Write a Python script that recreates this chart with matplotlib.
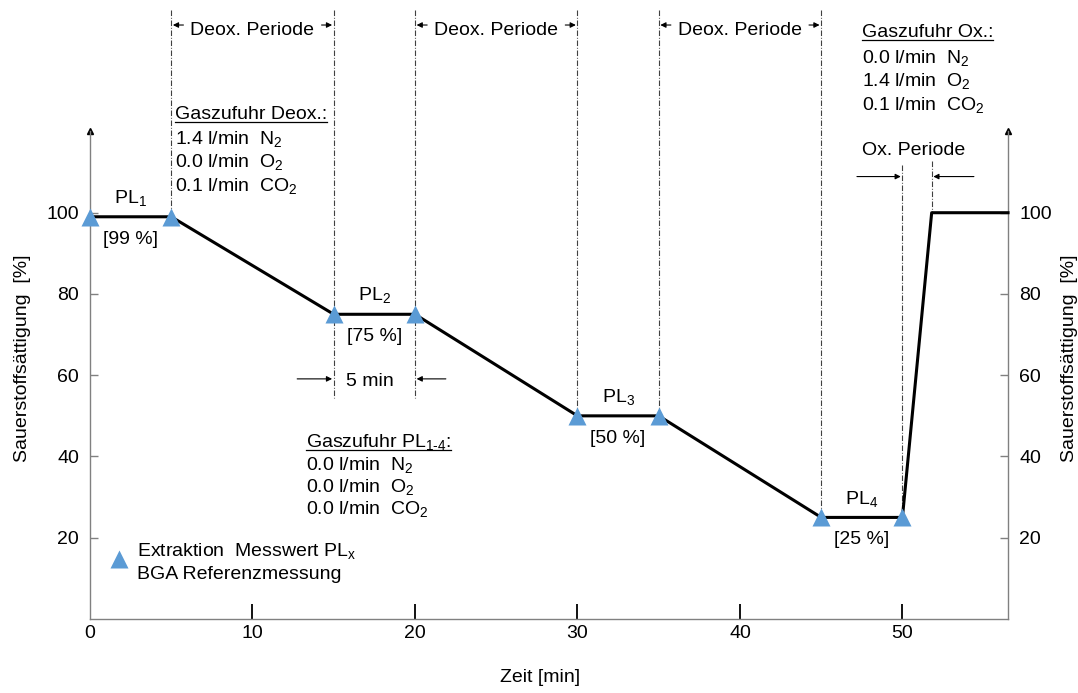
import matplotlib
matplotlib.use("Agg")
import matplotlib.pyplot as plt
from matplotlib.lines import Line2D

plt.rcParams['font.family'] = ['Liberation Sans', 'DejaVu Sans']
plt.rcParams['mathtext.fontset'] = 'custom'
plt.rcParams['mathtext.rm'] = 'Liberation Sans'
plt.rcParams['mathtext.it'] = 'Liberation Sans:italic'
plt.rcParams['mathtext.bf'] = 'Liberation Sans:bold'

# Plateaus of the saturation protocol: start time (min), duration (min), level (%)
plateau_start = [0, 15, 30, 45]
plateau_duration = 5
plateau_level = [99, 75, 50, 25]
plateau_names = ["PL$_1$", "PL$_2$", "PL$_3$", "PL$_4$"]

# Re-oxygenation at the end of the protocol
ox_rise_end = 51.8
ox_level = 100
t_end = 56.5

# Deoxygenation periods between the plateaus (min)
deox_periods = [(5, 15), (20, 30), (35, 45)]

# Gas supply (l/min) for N2, O2, CO2
gases = ["N$_2$", "O$_2$", "CO$_2$"]
flow_deox = [1.4, 0.0, 0.1]
flow_plateau = [0.0, 0.0, 0.0]
flow_ox = [0.0, 1.4, 0.1]

x_ticks = [0, 10, 20, 30, 40, 50]
y_ticks = [20, 40, 60, 80, 100]

FS = 14
BLUE = '#5B9BD5'
GREY = '#808080'
DASHDOT = (0, (5, 1.6, 0.8, 1.6))

fig = plt.figure(figsize=(10.78, 6.93), dpi=100)
ax = fig.add_axes([0.0835, 0.1068, 0.8516, 0.7035])
ax.set_xlim(0, t_end)
ax.set_ylim(0, 120)

# saturation profile
t, s = [], []
for st, lv in zip(plateau_start, plateau_level):
    t += [st, st + plateau_duration]
    s += [lv, lv]
n_meas = len(t)
t += [ox_rise_end, t_end]
s += [ox_level, ox_level]
ax.plot(t, s, color='black', lw=2.2, zorder=3, clip_on=False)
ax.plot(t[:n_meas], s[:n_meas], '^', ms=13, color=BLUE, mec='none',
        zorder=4, clip_on=False)

# plateau labels
for st, lv, name in zip(plateau_start, plateau_level, plateau_names):
    mid = st + plateau_duration / 2
    ax.annotate(name, (mid, lv), xytext=(0, 10), textcoords='offset points',
                ha='center', va='baseline', fontsize=FS, annotation_clip=False)
    ax.annotate(f"[{lv} %]", (mid, lv), xytext=(0, -16), textcoords='offset points',
                ha='center', va='center', fontsize=FS, annotation_clip=False)

# vertical dash-dot guides
def guide(x, y0, y1):
    ax.plot([x, x], [y0, y1], color='#404040', lw=0.8, ls=DASHDOT,
            zorder=2, clip_on=False)

top = 150
guide(plateau_start[0] + plateau_duration, top, plateau_level[0])
guide(plateau_start[1], top, 54.4)
guide(plateau_start[1] + plateau_duration, top, 54.4)
guide(plateau_start[2], top, plateau_level[2])
guide(plateau_start[2] + plateau_duration, top, plateau_level[2])
guide(plateau_start[3], top, plateau_level[3])
guide(plateau_start[3] + plateau_duration, 111.8, plateau_level[3])
guide(ox_rise_end, 112.7, ox_level)

def arrow(x_tip, x_tail, y):
    ax.annotate('', xy=(x_tip, y), xytext=(x_tail, y),
                arrowprops=dict(arrowstyle='-|>', lw=0.8, color='black',
                                mutation_scale=8, shrinkA=0, shrinkB=0),
                annotation_clip=False)

# deoxygenation periods
for a, b in deox_periods:
    ax.text((a + b) / 2, 143.8, "Deox. Periode", ha='center', va='baseline',
            fontsize=FS, clip_on=False)
    arrow(a + 0.1, a + 0.75, 146.2)
    arrow(b - 0.1, b - 0.75, 146.2)

# oxygenation period
ox_start = plateau_start[3] + plateau_duration
ax.text(50.7, 114.2, "Ox. Periode", ha='center', va='baseline', fontsize=FS,
        clip_on=False)
arrow(ox_start - 0.1, 47.2, 108.9)
arrow(ox_rise_end + 0.1, 54.4, 108.9)

# plateau duration
p2a = plateau_start[1]
p2b = plateau_start[1] + plateau_duration
ax.text((p2a + p2b) / 2 - 0.3, 57.4, f"{plateau_duration} min", ha='center',
        va='baseline', fontsize=FS)
arrow(p2a - 0.1, 12.75, 59.1)
arrow(p2b + 0.1, 21.9, 59.1)

# gas supply blocks
headings = []
def gas_block(x, baselines, title, flows):
    h = ax.text(x, baselines[0], title, ha='left', va='baseline', fontsize=FS,
                clip_on=False)
    headings.append(h)
    for yb, f, g in zip(baselines[1:], flows, gases):
        ax.text(x, yb, f"{f:.1f} l/min  {g}", ha='left', va='baseline',
                fontsize=FS, clip_on=False)

gas_block(5.2, [123.1, 116.9, 111.3, 105.4], "Gaszufuhr Deox.:", flow_deox)
gas_block(13.3, [42.3, 36.7, 31.3, 25.8], r"Gaszufuhr PL$_{1\text{-}4}$:", flow_plateau)
gas_block(47.5, [143.3, 136.9, 131.2, 125.3], "Gaszufuhr Ox.:", flow_ox)

# legend entry
ax.plot([1.79], [14.8], '^', ms=13, color=BLUE, mec='none')
ax.text(2.89, 15.5, "Extraktion  Messwert PL$_\\mathrm{x}$", ha='left',
        va='baseline', fontsize=FS)
ax.text(2.89, 9.8, "BGA Referenzmessung", ha='left', va='baseline', fontsize=FS)

# axes styling
for side in ['left', 'right', 'bottom']:
    ax.spines[side].set_color(GREY)
    ax.spines[side].set_linewidth(1.0)
ax.spines['top'].set_visible(False)

ax.set_xticks(x_ticks)
ax.set_yticks(y_ticks)
ax.tick_params(axis='x', direction='in', length=11, width=1.3, color='black',
               pad=4, labelsize=FS)
ax.tick_params(axis='y', direction='in', length=6, width=1.0, color=GREY,
               pad=8, labelsize=FS, left=True, right=True, labelleft=True,
               labelright=True)
ax.xaxis.get_major_ticks()[0].tick1line.set_visible(False)

# arrow heads on the vertical axes
for xa in (0, 1):
    ax.plot([xa], [1.0], marker='^', ms=5, color='black',
            transform=ax.transAxes, clip_on=False)

ax.text(-0.074, 0.535, "Sauerstoffsättigung  [%]", rotation=90, ha='center',
        va='center', fontsize=FS, transform=ax.transAxes)
ax.text(1.0665, 0.535, "Sauerstoffsättigung  [%]", rotation=90, ha='center',
        va='center', fontsize=FS, transform=ax.transAxes)
ax.text(0.49, -0.121, "Zeit [min]", ha='center', va='center', fontsize=FS,
        transform=ax.transAxes)

# underline the gas supply headings
fig.canvas.draw()
renderer = fig.canvas.get_renderer()
inv = fig.transFigure.inverted()
for h in headings:
    bb = h.get_window_extent(renderer=renderer)
    yb = ax.transData.transform((0, h.get_position()[1]))[1] - 3
    (x0, y0), (x1, _) = inv.transform([(bb.x0, yb), (bb.x1, yb)])
    fig.add_artist(Line2D([x0, x1], [y0, y0], color='black', lw=0.9,
                          transform=fig.transFigure))

fig.savefig("out.png", dpi=100)
